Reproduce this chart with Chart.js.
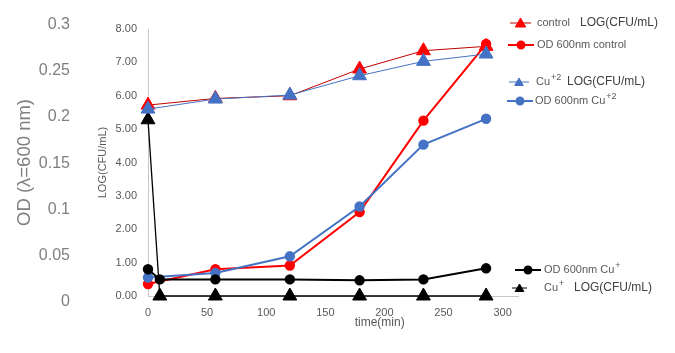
<!DOCTYPE html>
<html>
<head>
<meta charset="utf-8">
<script src="https://cdn.jsdelivr.net/npm/chart.js@4/dist/chart.umd.min.js"></script>
<style>
  html, body { margin: 0; padding: 0; background: #fff; }
</style>
</head>
<body>
<canvas id="growthChart" width="675" height="353"></canvas>
<script>
// sampling times (min); the Cu+ series has an extra point at 10 min
const TIME = [0, 57, 120, 179, 233, 286];
const TIME_CU1 = [0, 10, 57, 120, 179, 233, 286];

// LOG(CFU/mL)
const LOG_CONTROL = [5.72, 5.92, 6.0, 6.8, 7.35, 7.48];
const LOG_CU2 = [5.6, 5.9, 6.02, 6.6, 7.03, 7.25];
const LOG_CU1 = [5.28, 0, 0, 0, 0, 0, 0];

// OD at 600 nm
const OD_CONTROL = [0.019, 0.035, 0.039, 0.097, 0.196, 0.279];
const OD_CU2 = [0.026, 0.031, 0.049, 0.103, 0.170, 0.198];
const OD_CU1 = [0.035, 0.024, 0.024, 0.024, 0.023, 0.024, 0.036];

// tick labels
const X_TICKS = [0, 50, 100, 150, 200, 250, 300];
const LOG_TICKS = [0, 1, 2, 3, 4, 5, 6, 7, 8];
const OD_TICKS = [0, 0.05, 0.1, 0.15, 0.2, 0.25, 0.3];

const RED = '#ff0000';
const DARK_RED = '#c00000';
const BLUE = '#4472c4';
const BLACK = '#000000';
const FONT = "'Liberation Sans', Arial, sans-serif";

const pts = (xs, ys) => xs.map((x, i) => ({ x: x, y: ys[i] }));

// hand placed legend, as in the original figure
const LEGEND = [
  { y: 23, x0: 510, x1: 531, line: DARK_RED, lw: 1, mark: 'triangle', r: 6, fill: RED,
    runs: [{ t: 'control', x: 537 }, { t: 'LOG(CFU/mL)', x: 580, big: true }] },
  { y: 45, x0: 508, x1: 534, line: RED, lw: 2, mark: 'circle', r: 3.5, fill: RED,
    runs: [{ t: 'OD 600nm control', x: 537 }] },
  { y: 82, x0: 509, x1: 529, line: BLUE, lw: 1, mark: 'triangle', r: 5, fill: BLUE,
    runs: [{ t: 'Cu', x: 536 }, { t: '+2', sup: true }, { t: 'LOG(CFU/mL)', x: 567, big: true }] },
  { y: 101, x0: 507, x1: 533, line: BLUE, lw: 2, mark: 'circle', r: 3.5, fill: BLUE,
    runs: [{ t: 'OD 600nm Cu', x: 535 }, { t: '+2', sup: true }] },
  { y: 270, x0: 515, x1: 541, line: BLACK, lw: 2, mark: 'circle', r: 3.5, fill: BLACK,
    runs: [{ t: 'OD 600nm Cu', x: 544 }, { t: '+', sup: true }] },
  { y: 288, x0: 512, x1: 527, line: BLACK, lw: 1, mark: 'triangle', r: 5, fill: BLACK,
    runs: [{ t: 'Cu', x: 544 }, { t: '+', sup: true }, { t: 'LOG(CFU/mL)', x: 574, big: true }] }
];

const extrasPlugin = {
  id: 'extras',
  afterDraw(chart) {
    const ctx = chart.ctx;
    ctx.save();
    // x axis title, offset to the right like the source
    ctx.fillStyle = '#595959';
    ctx.font = '12px ' + FONT;
    ctx.textAlign = 'center';
    ctx.textBaseline = 'middle';
    ctx.fillText('time(min)', chart.scales.x.getPixelForValue(196), 323);

    LEGEND.forEach(item => {
      ctx.strokeStyle = item.line;
      ctx.lineWidth = item.lw;
      ctx.beginPath();
      ctx.moveTo(item.x0, item.y);
      ctx.lineTo(item.x1, item.y);
      ctx.stroke();
      ctx.fillStyle = item.fill;
      ctx.strokeStyle = item.fill;
      Chart.helpers.drawPoint(ctx, { pointStyle: item.mark, radius: item.r, borderWidth: 1, rotation: 0 },
        (item.x0 + item.x1) / 2, item.y + (item.mark === 'triangle' ? 1 : 0));

      ctx.textAlign = 'left';
      ctx.textBaseline = 'middle';
      let cx = 0;
      item.runs.forEach(run => {
        if (run.x !== undefined) cx = run.x;
        if (run.sup) {
          ctx.font = '9px ' + FONT;
          ctx.fillStyle = '#595959';
          ctx.fillText(run.t, cx + 1, item.y - 4);
          cx += ctx.measureText(run.t).width + 1;
        } else {
          ctx.font = (run.big ? '12px ' : '11px ') + FONT;
          ctx.fillStyle = run.big ? '#404040' : '#595959';
          ctx.fillText(run.t, cx, item.y);
          cx += ctx.measureText(run.t).width;
        }
      });
    });
    ctx.restore();
  }
};

new Chart(document.getElementById('growthChart'), {
  type: 'line',
  data: {
    datasets: [
      { label: 'Cu+2 LOG(CFU/mL)', data: pts(TIME, LOG_CU2), yAxisID: 'y',
        borderColor: BLUE, borderWidth: 1, pointStyle: 'triangle', pointRadius: 8,
        pointBackgroundColor: BLUE, pointBorderColor: BLUE, pointBorderWidth: 1 },
      { label: 'OD 600nm Cu+', data: pts(TIME_CU1, OD_CU1), yAxisID: 'od',
        borderColor: BLACK, borderWidth: 2, pointStyle: 'circle', pointRadius: 4.2,
        pointBackgroundColor: BLACK, pointBorderColor: BLACK },
      { label: 'OD 600nm Cu+2', data: pts(TIME, OD_CU2), yAxisID: 'od',
        borderColor: BLUE, borderWidth: 2, pointStyle: 'circle', pointRadius: 4.2,
        pointBackgroundColor: BLUE, pointBorderColor: BLUE },
      { label: 'OD 600nm control', data: pts(TIME, OD_CONTROL), yAxisID: 'od',
        borderColor: RED, borderWidth: 2, pointStyle: 'circle', pointRadius: 4.2,
        pointBackgroundColor: RED, pointBorderColor: RED },
      { label: 'control LOG(CFU/mL)', data: pts(TIME, LOG_CONTROL), yAxisID: 'y',
        borderColor: DARK_RED, borderWidth: 1, pointStyle: 'triangle', pointRadius: 8,
        pointBackgroundColor: RED, pointBorderColor: RED, pointBorderWidth: 1 },
      { label: 'Cu+ LOG(CFU/mL)', data: pts(TIME_CU1, LOG_CU1), yAxisID: 'y',
        borderColor: BLACK, borderWidth: 1.3, pointStyle: 'triangle', pointRadius: 8,
        pointBackgroundColor: BLACK, pointBorderColor: BLACK, pointBorderWidth: 1 }
    ]
  },
  options: {
    responsive: false,
    animation: false,
    layout: { padding: { top: 29, right: 157, bottom: 0, left: 0 } },
    plugins: { legend: { display: false }, tooltip: { enabled: false } },
    elements: { line: { tension: 0, fill: false } },
    datasets: { line: { clip: false } },
    scales: {
      x: {
        type: 'linear', min: 0, max: 313,
        afterBuildTicks: s => { s.ticks = X_TICKS.map(v => ({ value: v })); },
        afterFit: s => { s.height = 57; },
        grid: { display: false, drawTicks: false },
        border: { color: '#c8c8c8', width: 1 },
        ticks: { padding: 10, color: '#595959', font: { family: FONT, size: 11 } }
      },
      y: {
        type: 'linear', position: 'left', min: 0, max: 8, weight: 0,
        afterBuildTicks: s => { s.ticks = LOG_TICKS.map(v => ({ value: v })); },
        afterFit: s => { s.width = 73; },
        grid: { display: false, drawTicks: false },
        border: { color: '#c8c8c8', width: 1 },
        ticks: { padding: 11, color: '#595959', font: { family: FONT, size: 11 },
          callback: v => v.toFixed(2) },
        title: { display: true, text: 'LOG(CFU/mL)', color: '#595959',
          font: { family: FONT, size: 11 }, padding: { top: 21, bottom: 0 } }
      },
      od: {
        // the OD scale of the source sits a little off the plot frame
        type: 'linear', position: 'left', min: 0.006, max: 0.2953, weight: 1,
        afterBuildTicks: s => { s.ticks = OD_TICKS.map(v => ({ value: v })); },
        afterFit: s => { s.width = 75; },
        grid: { display: false, drawTicks: false },
        border: { display: false },
        ticks: { padding: 5, color: '#7f7f7f', font: { family: FONT, size: 16 },
          callback: v => String(v) },
        title: { display: true, text: 'OD (λ=600 nm)', color: '#7f7f7f',
          font: { family: FONT, size: 18.5 }, padding: { top: 14, bottom: 0 } }
      }
    }
  },
  plugins: [extrasPlugin]
});
</script>
</body>
</html>
